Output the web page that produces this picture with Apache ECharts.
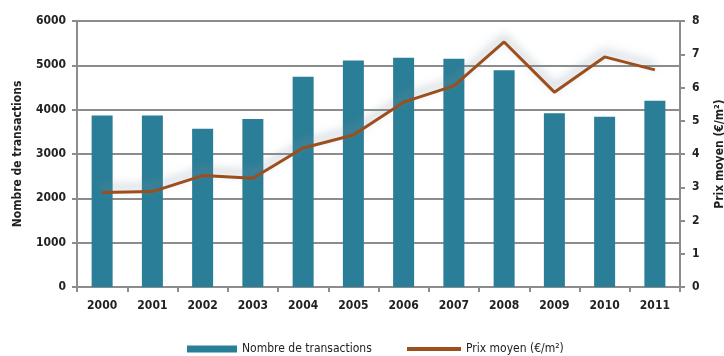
<!DOCTYPE html>
<html>
<head>
<meta charset="utf-8">
<script src="https://cdn.jsdelivr.net/npm/echarts@6/dist/echarts.min.js"></script>
<style>
  html, body { margin: 0; padding: 0; background: #ffffff; }
  #chart { width: 724px; height: 356px; }
</style>
</head>
<body>
<div id="chart"></div>
<script>
// Années
const years = ['2000', '2001', '2002', '2003', '2004', '2005', '2006', '2007', '2008', '2009', '2010', '2011'];
// Nombre de transactions par année
const transactions = [3870, 3870, 3570, 3790, 4740, 5110, 5170, 5150, 4890, 3920, 3840, 4200];
// Prix moyen (€/m²)
const prixMoyen = [2.84, 2.87, 3.35, 3.27, 4.18, 4.57, 5.56, 6.05, 7.37, 5.86, 6.92, 6.53];

const FONT = '"DejaVu Sans Condensed", "Liberation Sans Narrow", "Liberation Sans", Arial, sans-serif';
const GRID_GREY = '#8c8c8c';
const TEAL = '#2a7e97';
const BROWN = '#9c4e1c';
const plain = v => String(v);

const chart = echarts.init(document.getElementById('chart'));
chart.setOption({
  backgroundColor: '#ffffff',
  animation: false,
  grid: { left: 77, right: 44, top: 21, bottom: 69, containLabel: false, outerBoundsMode: 'none' },
  legend: [
    {
      data: [{ name: 'Nombre de transactions', icon: 'rect' }],
      left: 182, top: 338,
      itemWidth: 50, itemHeight: 7, itemGap: 6,
      textStyle: { fontFamily: FONT, fontSize: 12, color: '#222' }
    },
    {
      data: [{ name: 'Prix moyen (€/m²)', icon: 'rect' }],
      left: 402, top: 338,
      itemWidth: 54, itemHeight: 4, itemGap: 4,
      textStyle: { fontFamily: FONT, fontSize: 12, color: '#222' }
    }
  ],
  xAxis: {
    type: 'category',
    data: years,
    axisLine: { lineStyle: { color: GRID_GREY, width: 2 } },
    axisTick: { show: true, length: 5, lineStyle: { color: GRID_GREY, width: 2 } },
    axisLabel: { fontFamily: FONT, fontWeight: 'bold', fontSize: 12, color: '#222', margin: 13 }
  },
  yAxis: [
    {
      type: 'value',
      min: 0, max: 6000, interval: 1000,
      name: 'Nombre de transactions',
      nameLocation: 'middle',
      nameGap: 53,
      nameTextStyle: { fontFamily: FONT, fontWeight: 'bold', fontSize: 12, color: '#222' },
      axisLine: { show: true, lineStyle: { color: GRID_GREY, width: 2 } },
      axisTick: { show: true, length: 5, lineStyle: { color: GRID_GREY, width: 2 } },
      axisLabel: { fontFamily: FONT, fontWeight: 'bold', fontSize: 12, color: '#222', margin: 11, formatter: plain },
      splitLine: { show: true, lineStyle: { color: GRID_GREY, width: 2 } }
    },
    {
      type: 'value',
      min: 0, max: 8, interval: 1,
      name: 'Prix moyen (€/m²)',
      nameLocation: 'middle',
      nameGap: 34,
      nameRotate: 90,
      nameTextStyle: { fontFamily: FONT, fontWeight: 'bold', fontSize: 12, color: '#222' },
      axisLine: { show: true, lineStyle: { color: GRID_GREY, width: 2 } },
      axisTick: { show: true, length: 5, lineStyle: { color: GRID_GREY, width: 2 } },
      axisLabel: { fontFamily: FONT, fontWeight: 'bold', fontSize: 12, color: '#222', margin: 12, formatter: plain },
      splitLine: { show: false }
    }
  ],
  series: [
    {
      name: 'Nombre de transactions',
      type: 'bar',
      data: transactions,
      barWidth: 21,
      itemStyle: { color: TEAL }
    },
    {
      name: 'Prix moyen (€/m²)',
      type: 'line',
      yAxisIndex: 1,
      data: prixMoyen,
      symbol: 'none',
      lineStyle: {
        color: BROWN, width: 3,
        shadowColor: 'rgba(125,145,160,0.7)', shadowBlur: 10, shadowOffsetY: -5
      },
      itemStyle: { color: BROWN }
    }
  ]
});
</script>
</body>
</html>
